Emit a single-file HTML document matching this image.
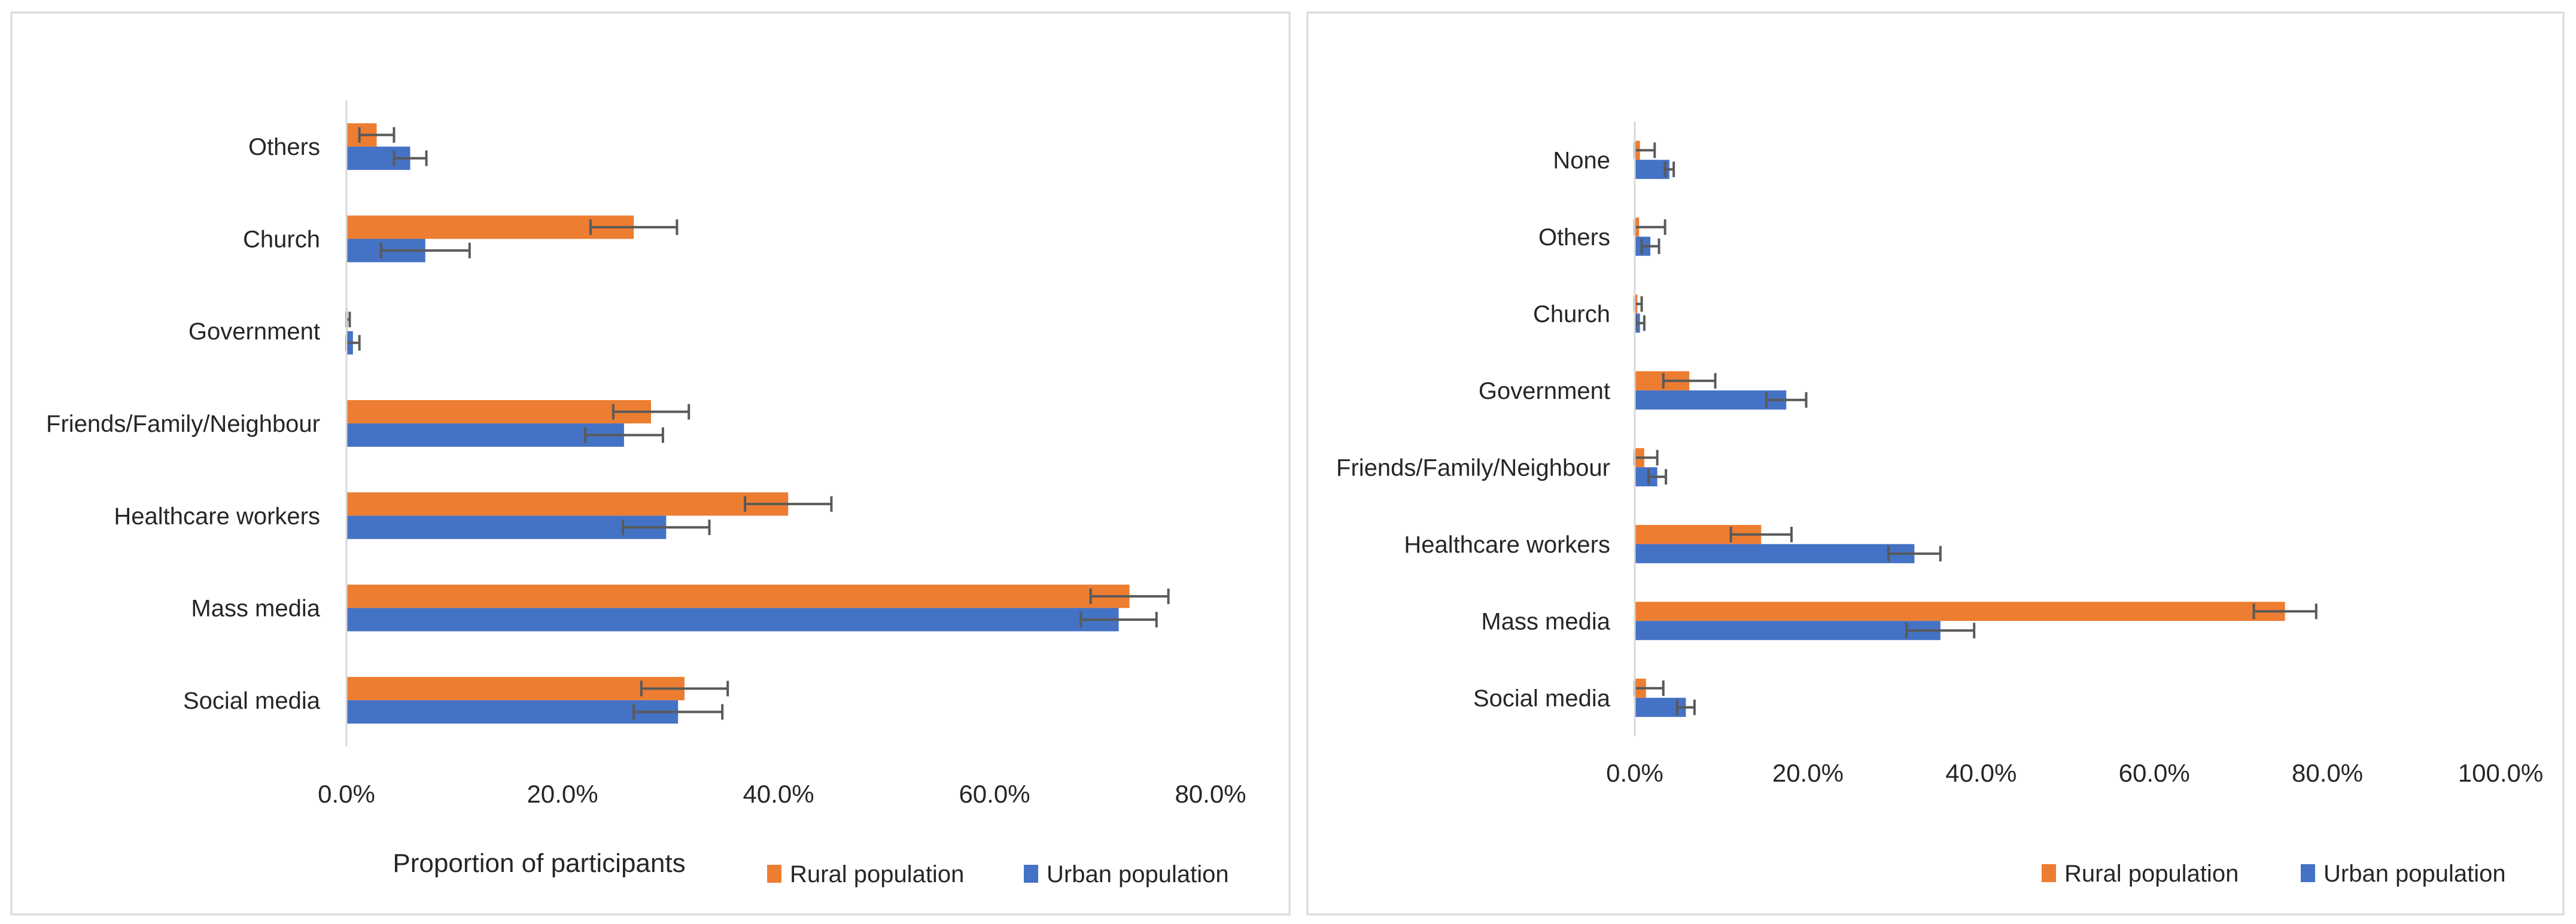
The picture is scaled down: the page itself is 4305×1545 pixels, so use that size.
<!DOCTYPE html>
<html><head><meta charset="utf-8"><style>
html,body{margin:0;padding:0;background:#fff;}
svg{display:block;font-family:"Liberation Sans",sans-serif;}
</style></head><body>
<svg id="chart" width="4305" height="1545" viewBox="0 0 4305 1545">
<rect x="19" y="21" width="2136" height="1508" fill="#fff" stroke="#d9d9d9" stroke-width="3"/>
<rect x="2185" y="21" width="2099" height="1508" fill="#fff" stroke="#d9d9d9" stroke-width="3"/>
<text x="901" y="1458" font-size="44" fill="#262626" text-anchor="middle">Proportion of participants</text>
</svg>
<script>
// Left chart data
const leftCategories = ["Others","Church","Government","Friends/Family/Neighbour","Healthcare workers","Mass media","Social media"];
const leftRural = [2.8, 26.6, 0.1, 28.2, 40.9, 72.5, 31.3];
const leftRuralErr = [1.6, 4.0, 0.2, 3.5, 4.0, 3.6, 4.0];
const leftUrban = [5.9, 7.3, 0.6, 25.7, 29.6, 71.5, 30.7];
const leftUrbanErr = [1.5, 4.1, 0.6, 3.6, 4.0, 3.5, 4.1];
const leftTicks = ["0.0%","20.0%","40.0%","60.0%","80.0%"];
const leftTickValues = [0, 20, 40, 60, 80];
// Right chart data
const rightCategories = ["None","Others","Church","Government","Friends/Family/Neighbour","Healthcare workers","Mass media","Social media"];
const rightRural = [0.6, 0.5, 0.3, 6.3, 1.1, 14.6, 75.1, 1.3];
const rightRuralErr = [1.7, 3.0, 0.5, 3.0, 1.5, 3.5, 3.6, 2.0];
const rightUrban = [4.0, 1.8, 0.6, 17.5, 2.6, 32.3, 35.3, 5.9];
const rightUrbanErr = [0.5, 1.0, 0.5, 2.3, 1.0, 3.0, 3.9, 1.0];
const rightTicks = ["0.0%","20.0%","40.0%","60.0%","80.0%","100.0%"];
const rightTickValues = [0, 20, 40, 60, 80, 100];

const NS = "http://www.w3.org/2000/svg";
const svg = document.getElementById("chart");
function mk(tag, attrs, parent){
  const e = document.createElementNS(NS, tag);
  for (const k in attrs) e.setAttribute(k, attrs[k]);
  (parent||svg).appendChild(e);
  return e;
}
function drawPanel(p, cats, rural, ruralErr, urban, urbanErr, ticks, tickVals){
  const g = mk("g", {});
  
  
  const x = v => p.x0 + (v - p.min) / (p.max - p.min) * (p.x1 - p.x0);
  const band = (p.y1 - p.y0) / cats.length;
  cats.forEach((c, i) => {
    const cy = p.y0 + band * (i + 0.5);
    const lab = mk("text", {x: p.labelX, y: cy + 14, "font-size": 40, "text-anchor": "end", fill: "#262626"}, g);
    lab.textContent = c;
    
    
    const series = [[rural[i], ruralErr[i], "#ED7D31", cy - p.bh, 'bar-rural'], [urban[i], urbanErr[i], "#4472C4", cy, 'bar-urban']];
    series.forEach(s => {
      const r = mk("rect", {x: x(0), y: s[3], width: Math.max(0, x(s[0]) - x(0)), height: p.bh, fill: s[2]}, g);
      
      
      const ey = s[3] + p.bh / 2;
      const lo = x(Math.max(0, s[0] - s[1])), hi = x(s[0] + s[1]);
      const eb = mk("path", {d: `M${lo},${ey}H${hi}M${lo},${ey-13}V${ey+13}M${hi},${ey-13}V${ey+13}`, stroke: "#595959", "stroke-width": 4, fill: "none"}, g);
      
      
    });
  });
  const ax = mk("line", {x1: x(0), x2: x(0), y1: p.y0, y2: p.y1, stroke: "#d9d9d9", "stroke-width": 3}, g);
  
  
  ticks.forEach((t, i) => {
    const tl = mk("text", {x: x(tickVals[i]), y: p.tickY, "font-size": 42, "text-anchor": "middle", fill: "#262626"}, g);
    tl.textContent = t;
    
    
  });
  const leg = [["#ED7D31", "Rural population", p.legR, 'legend-rural'], ["#4472C4", "Urban population", p.legU, 'legend-urban']];
  leg.forEach(l => {
    const le = mk("g", {}, g);
    
    
    mk("rect", {x: l[2], y: p.legY - 16, width: 24, height: 30, fill: l[0]}, le);
    const tt = mk("text", {x: l[2] + 38, y: p.legY + 13, "font-size": 40, fill: "#262626"}, le);
    tt.textContent = l[1];
  });
}
drawPanel({name:'left', x0:579, x1:2023, min:0, max:80, y0:168, y1:1248, bh:39, labelX:535, tickY:1342, legY:1462, legR:1282, legU:1711},
  leftCategories, leftRural, leftRuralErr, leftUrban, leftUrbanErr, leftTicks, leftTickValues);
drawPanel({name:'right', x0:2732, x1:4179, min:0, max:100, y0:203, y1:1231, bh:32, labelX:2691, tickY:1307, legY:1461, legR:3412, legU:3845},
  rightCategories, rightRural, rightRuralErr, rightUrban, rightUrbanErr, rightTicks, rightTickValues);
</script>
</body></html>
